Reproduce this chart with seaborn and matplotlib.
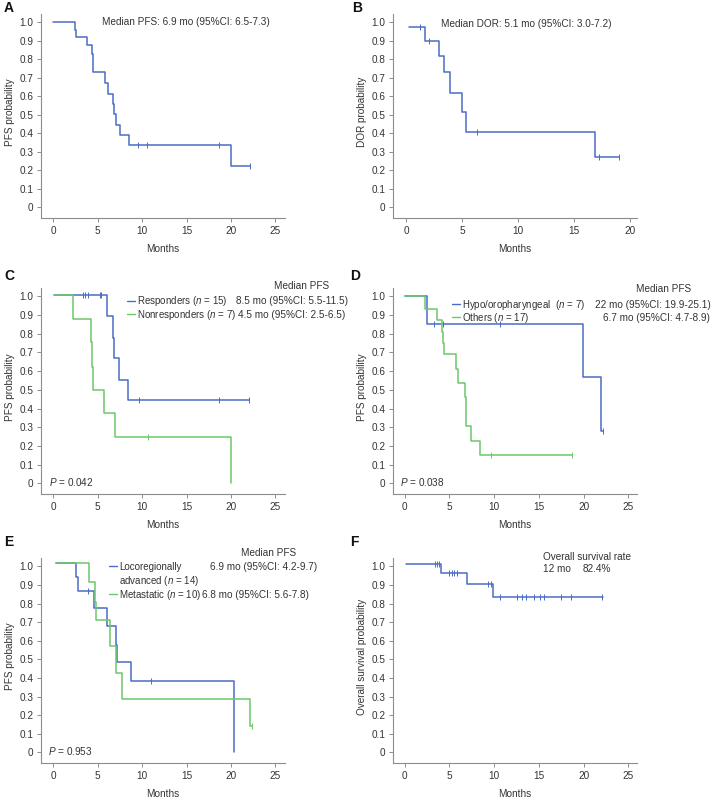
import numpy as np
import pandas as pd
import seaborn as sns
import matplotlib.pyplot as plt
from matplotlib.lines import Line2D

# --- Data: step times / survival levels ---
# A: PFS, all patients
a_time = [0.0, 2.4, 2.6, 3.8, 4.4, 4.45, 4.5, 5.85, 6.1, 6.75, 6.85, 7.0, 7.5, 8.5, 20.0, 22.1]
a_surv = [1.0, 0.96, 0.92, 0.875, 0.83, 0.78, 0.73, 0.67, 0.615, 0.56, 0.505, 0.445, 0.39, 0.335, 0.223, 0.223]
a_cens = [9.5, 10.6, 18.7, 22.1]

# B: duration of response
b_time = [0.24, 1.66, 2.91, 3.36, 3.86, 4.93, 5.32, 16.88, 18.96]
b_surv = [0.975, 0.90, 0.82, 0.73, 0.62, 0.515, 0.41, 0.27, 0.27]
b_cens = [1.2, 2.0, 6.3, 17.2, 18.96]

# C: responders vs nonresponders
c_resp_time = [0.05, 6.08, 6.76, 6.83, 7.4, 8.45, 22.07]
c_resp_surv = [1.01, 0.895, 0.78, 0.67, 0.555, 0.445, 0.445]
c_resp_cens = [3.3, 3.6, 3.85, 5.2, 5.4, 9.7, 18.7, 22.07]
c_non_time = [0.05, 2.25, 4.24, 4.35, 4.42, 5.74, 6.9, 20.0]
c_non_surv = [1.01, 0.88, 0.755, 0.625, 0.50, 0.375, 0.25, 0.0]
c_non_cens = [10.66]

# D: hypo/oropharyngeal vs others
d_hypo_time = [0.0, 2.5, 19.96, 21.9, 22.1]
d_hypo_surv = [1.0, 0.855, 0.57, 0.28, 0.28]
d_hypo_cens = [3.25, 4.3, 10.6, 22.1]
d_oth_time = [0.0, 2.24, 3.66, 4.2, 4.3, 4.37, 5.7, 5.97, 6.72, 6.83, 6.9, 7.39, 8.47, 18.73]
d_oth_surv = [1.0, 0.935, 0.875, 0.81, 0.75, 0.69, 0.61, 0.535, 0.46, 0.38, 0.305, 0.228, 0.15, 0.15]
d_oth_cens = [9.6, 18.73]

# E: locoregionally advanced vs metastatic
e_loco_time = [0.3, 2.6, 2.82, 4.62, 6.05, 7.03, 7.18, 8.76, 20.4]
e_loco_surv = [1.018, 0.945, 0.87, 0.775, 0.68, 0.58, 0.485, 0.385, 0.0]
e_loco_cens = [3.9, 11.0]
e_meta_time = [0.3, 4.06, 4.74, 4.85, 6.35, 7.03, 7.74, 22.18, 22.37]
e_meta_surv = [1.018, 0.915, 0.81, 0.71, 0.57, 0.425, 0.285, 0.142, 0.142]
e_meta_cens = [22.37]

# F: overall survival
f_time = [0.1, 4.04, 6.92, 9.92, 22.1]
f_surv = [1.014, 0.963, 0.905, 0.835, 0.835]
f_cens = [3.37, 3.6, 3.8, 5.0, 5.3, 5.5, 5.8, 9.3, 9.6, 10.7, 12.5, 13.1, 13.6,
          14.5, 15.1, 15.6, 17.5, 18.6, 22.0]

y_ticks = [0, 0.1, 0.2, 0.3, 0.4, 0.5, 0.6, 0.7, 0.8, 0.9, 1.0]
y_labels = ['0', '0.1', '0.2', '0.3', '0.4', '0.5', '0.6', '0.7', '0.8', '0.9', '1.0']

# legend rows and the median shown next to each (None = nothing on that row)
c_labels = ['Responders ($n$ = 15)', 'Nonresponders ($n$ = 7)']
c_medians = ['8.5 mo (95%CI: 5.5-11.5)', '4.5 mo (95%CI: 2.5-6.5)']
d_labels = ['Hypo/oropharyngeal  ($n$ = 7)', 'Others ($n$ = 17)']
d_medians = ['22 mo (95%CI: 19.9-25.1)', '6.7 mo (95%CI: 4.7-8.9)']
e_labels = ['Locoregionally', 'advanced ($n$ = 14)', 'Metastatic ($n$ = 10)']
e_medians = ['6.9 mo (95%CI: 4.2-9.7)', None, '6.8 mo (95%CI: 5.6-7.8)']

# --- Style ---
W, H = 721, 802
BLUE = '#4a6cc6'
GREEN = '#6cc86a'
INK = '#333333'
SPINE = '#8c8c8c'
FS = 7.2

sns.set_style('ticks')
plt.rcParams['font.family'] = ['Liberation Sans', 'DejaVu Sans']
plt.rcParams['font.size'] = FS
plt.rcParams['mathtext.fontset'] = 'custom'
plt.rcParams['mathtext.rm'] = 'Liberation Sans'
plt.rcParams['mathtext.it'] = 'Liberation Sans:italic'
plt.rcParams['text.color'] = INK
plt.rcParams['axes.labelcolor'] = INK
plt.rcParams['xtick.labelcolor'] = INK
plt.rcParams['ytick.labelcolor'] = INK


def fx(px):
    return px / W


def fy(py):
    return 1 - py / H


fig = plt.figure(figsize=(W / 100, H / 100), dpi=100)


def km(ax, time, surv, cens, color):
    df = pd.DataFrame({'Months': time, 'Survival': surv})
    sns.lineplot(data=df, x='Months', y='Survival', color=color, lw=1.1,
                 drawstyle='steps-post', estimator=None, ax=ax)
    level = np.asarray(surv)[np.searchsorted(time, cens, side='right') - 1]
    sns.scatterplot(x=cens, y=level, marker='|', s=14, color=color,
                    linewidth=0.7, ax=ax, zorder=3)


def finish(ax, xlim, xticks, ylabel):
    ax.set_xlim(*xlim)
    ax.set_ylim(-0.057, 1.045)
    ax.set_xticks(xticks)
    ax.set_yticks(y_ticks)
    ax.set_yticklabels(y_labels)
    ax.tick_params(length=3, width=0.7, color=SPINE, pad=2.5, labelsize=FS)
    sns.despine(ax=ax)
    for s in ['left', 'bottom']:
        ax.spines[s].set_color(SPINE)
        ax.spines[s].set_linewidth(0.8)
    ax.set_xlabel('Months')
    ax.set_ylabel(ylabel)
    ax.xaxis.set_label_coords(0.5, -0.125)
    ax.yaxis.set_label_coords(-0.105, 0.52)


def legend(ax, handles, labels, px, py, spacing, hh=0.7):
    return ax.legend(handles=handles, labels=labels, loc='upper left',
                     bbox_to_anchor=(fx(px), fy(py)), bbox_transform=fig.transFigure,
                     frameon=False, borderpad=0, borderaxespad=0, handlelength=0.85,
                     handleheight=hh, handletextpad=0.2, labelspacing=spacing,
                     fontsize=7.0)


LEFT = 41
RIGHT = 393
x25 = [0, 5, 10, 15, 20, 25]
blue_h = Line2D([], [], color=BLUE, lw=1.0)
green_h = Line2D([], [], color=GREEN, lw=1.0)
no_h = Line2D([], [], color='none')

# A
ax = fig.add_axes([fx(LEFT), fy(218), 244 / W, 204 / H])
km(ax, a_time, a_surv, a_cens, BLUE)
finish(ax, (-1.4, 26.1), x25, 'PFS probability')
fig.text(fx(102), fy(22), 'Median PFS: 6.9 mo (95%CI: 6.5-7.3)', ha='left', va='center')

# B
ax = fig.add_axes([fx(RIGHT), fy(218), 244 / W, 204 / H])
km(ax, b_time, b_surv, b_cens, BLUE)
finish(ax, (-1.2, 20.6), [0, 5, 10, 15, 20], 'DOR probability')
fig.text(fx(441), fy(24), 'Median DOR: 5.1 mo (95%CI: 3.0-7.2)', ha='left', va='center')

# C
ax = fig.add_axes([fx(LEFT), fy(494), 244 / W, 206 / H])
km(ax, c_resp_time, c_resp_surv, c_resp_cens, BLUE)
km(ax, c_non_time, c_non_surv, c_non_cens, GREEN)
finish(ax, (-1.4, 26.1), x25, 'PFS probability')
leg_c = legend(ax, [blue_h, green_h], c_labels, 127, 294.5, -0.1)
fig.text(fx(302), fy(286), 'Median PFS', ha='center', va='center')
fig.text(fx(49), fy(482.3), '$P$ = 0.042', ha='left', va='center')

# D
ax = fig.add_axes([fx(RIGHT), fy(494), 244 / W, 206 / H])
km(ax, d_hypo_time, d_hypo_surv, d_hypo_cens, BLUE)
km(ax, d_oth_time, d_oth_surv, d_oth_cens, GREEN)
finish(ax, (-1.3, 25.95), x25, 'PFS probability')
leg_d = legend(ax, [blue_h, green_h], d_labels, 452, 297.5, -0.1)
fig.text(fx(664), fy(289), 'Median PFS', ha='center', va='center')
fig.text(fx(400), fy(481.7), '$P$ = 0.038', ha='left', va='center')

# E
ax = fig.add_axes([fx(LEFT), fy(763), 244 / W, 205 / H])
km(ax, e_loco_time, e_loco_surv, e_loco_cens, BLUE)
km(ax, e_meta_time, e_meta_surv, e_meta_cens, GREEN)
finish(ax, (-1.4, 26.1), x25, 'PFS probability')
leg_e = legend(ax, [blue_h, no_h, green_h], e_labels, 109, 561, 0.08, hh=1.5)
fig.text(fx(269), fy(552.7), 'Median PFS', ha='center', va='center')
fig.text(fx(47.7), fy(750.7), '$P$ = 0.953', ha='left', va='center')

# F
ax = fig.add_axes([fx(RIGHT), fy(763), 244 / W, 205 / H])
km(ax, f_time, f_surv, f_cens, BLUE)
finish(ax, (-1.3, 25.95), x25, 'Overall survival probability')
fig.text(fx(542.7), fy(556.7), 'Overall survival rate', ha='left', va='center')
fig.text(fx(542.7), fy(569), '12 mo', ha='left', va='center')
fig.text(fx(582.7), fy(569), '82.4%', ha='left', va='center')

# Panel letters
for letter, (px, py) in zip('ABCDEF', [(4, 8), (352, 8), (4, 276.5),
                                       (350, 276.5), (4, 542), (350, 542)]):
    fig.text(fx(px), fy(py), letter, ha='left', va='center',
             fontsize=10, fontweight='bold', color='#111111')

# median column, aligned on the rendered legend rows
fig.canvas.draw()
for leg, medians, xs in [(leg_c, c_medians, [236, 238]),
                         (leg_d, d_medians, [595, 602.7]),
                         (leg_e, e_medians, [210, None, 202])]:
    for txt, med, px in zip(leg.get_texts(), medians, xs):
        if med is None:
            continue
        bb = txt.get_window_extent()
        fig.text(fx(px), (bb.y0 + bb.y1) / 2 / fig.bbox.height, med, ha='left', va='center')

fig.savefig('out.png', dpi=100)
